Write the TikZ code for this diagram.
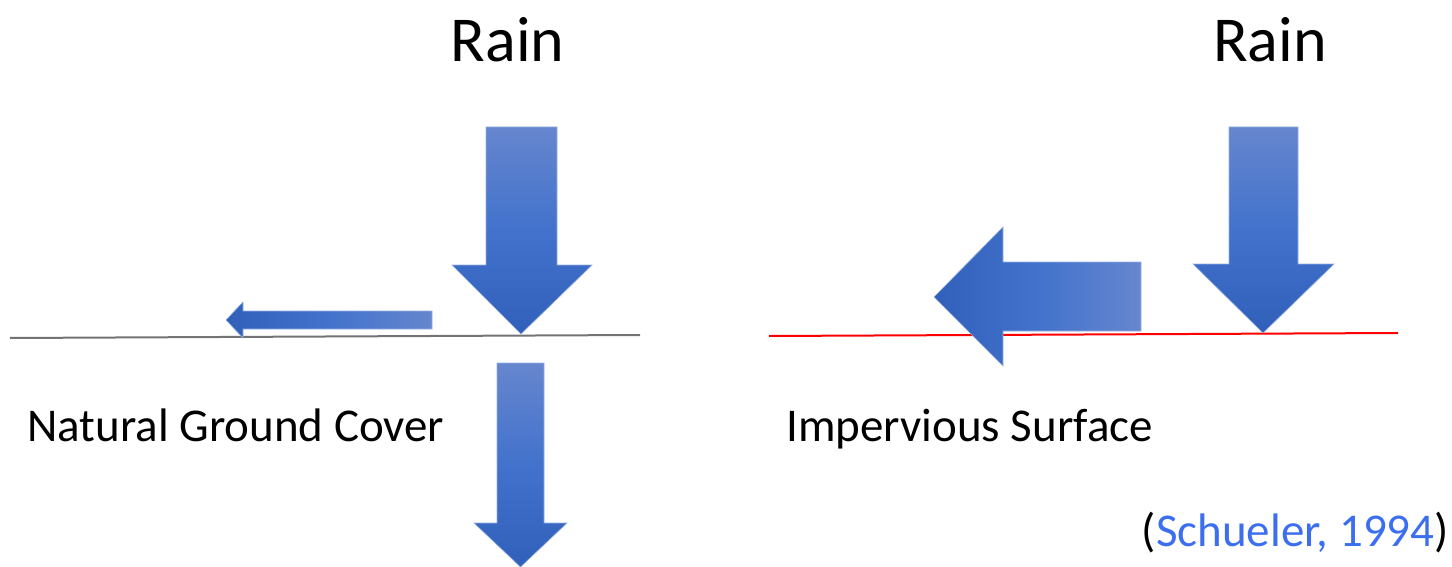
\documentclass[tikz,border=0pt]{standalone}
\usepackage{fontspec}
\setmainfont{Carlito}
\definecolor{arrlight}{RGB}{102,134,206}
\definecolor{arrmid}{RGB}{66,114,204}
\definecolor{arrdark}{RGB}{48,96,186}
\definecolor{arredge}{RGB}{150,175,225}
\definecolor{citeblue}{RGB}{60,110,240}
\definecolor{groundgray}{RGB}{115,115,115}
\begin{document}
\begin{tikzpicture}[x=1pt,y=-1pt,
  downarrow/.style={top color=arrlight,bottom color=arrdark,middle color=arrmid,draw=arredge,line width=0.6pt},
  leftarrow/.style={right color=arrlight,left color=arrdark,middle color=arrmid,draw=arredge,line width=0.6pt},
  bigtext/.style={font=\fontsize{64}{76}\selectfont,inner sep=0pt,anchor=base},
  labeltext/.style={font=\fontsize{47}{56}\selectfont,inner sep=0pt,anchor=base west}]
\useasboundingbox (0,0) rectangle (1452,567);
% ground lines
\draw[groundgray,line width=2pt] (10,338) coordinate (gl1) -- (640,335) coordinate (gl2);
\draw[red,line width=2pt] (769,336) coordinate (rl1) -- (1398,333) coordinate (rl2);
% left panel: rain arrow
\shade[downarrow] (486,127) -- (557,127) -- (557,265) -- (592,265) -- (521,334) -- (452,265) -- (486,265) -- cycle;
% small runoff arrow
\shade[leftarrow] (432,311) -- (432,329) -- (243,329) -- (243,338) -- (226,320) -- (243,302) -- (243,311) -- cycle;
% infiltration arrow
\shade[downarrow] (497,363) -- (544,363) -- (544,523) -- (567,523) -- (520.5,567) -- (474,523) -- (497,523) -- cycle;
% right panel: rain arrow
\shade[downarrow] (1229,127) -- (1298,127) -- (1298,264) -- (1334,264) -- (1263,333) -- (1193,264) -- (1229,264) -- cycle;
% big runoff arrow
\shade[leftarrow] (1141,262) -- (1141,331) -- (1003,331) -- (1003,366) -- (934,297) -- (1003,227) -- (1003,262) -- cycle;
% texts
\node[bigtext] (rain1) at (507.5,62) {Rain};
\node[bigtext] (rain2) at (1270,62) {Rain};
\node[labeltext] (natural) at (27,441) {Natural Ground Cover};
\node[labeltext] (impervious) at (786,441) {Impervious Surface};
\node[font=\fontsize{47}{56}\selectfont,inner sep=0pt,anchor=base east] (cite) at (1449,546) {(\textcolor{citeblue}{Schueler, 1994})};
\end{tikzpicture}
\end{document}
